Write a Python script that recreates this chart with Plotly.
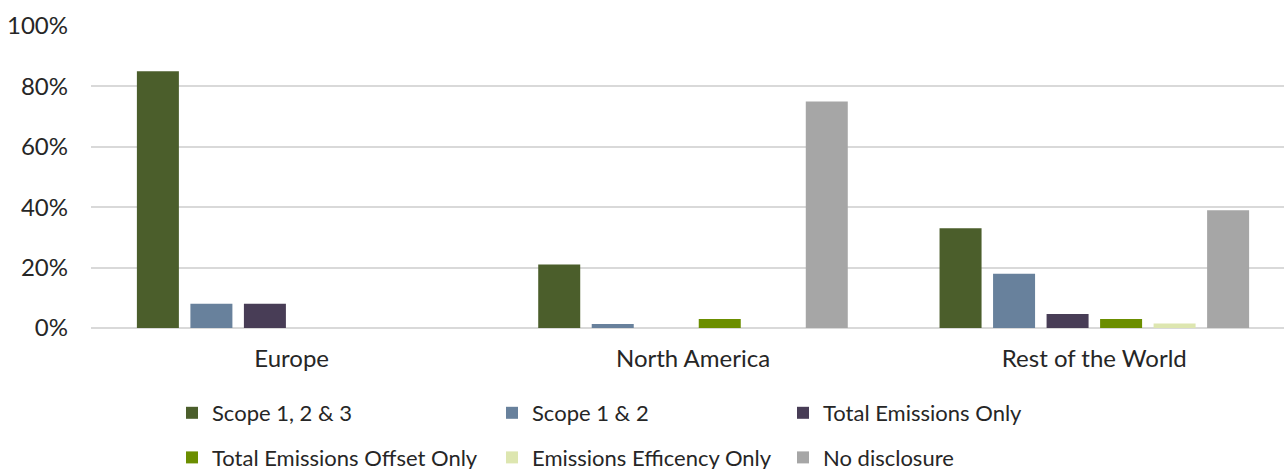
import plotly.graph_objects as go

categories = ["Europe", "North America", "Rest of the World"]
series_names = ["Scope 1, 2 & 3", "Scope 1 & 2", "Total Emissions Only",
                "Total Emissions Offset Only", "Emissions Efficency Only", "No disclosure"]
scope_123 = [85, 21, 33]
scope_12 = [8, 1.3, 18]
total_only = [8, 0, 4.6]
offset_only = [0, 3, 3]
efficiency_only = [0, 0, 1.5]
no_disclosure = [0, 75, 39]
y_tick_vals = [0, 20, 40, 60, 80, 100]
y_tick_text = ["0%", "20%", "40%", "60%", "80%", "100%"]
colors = ["#4B5E2B", "#68819C", "#483D56", "#6B8E00", "#DDE6B0", "#A6A6A6"]
legend_ids = ["legend", "legend2", "legend3", "legend", "legend2", "legend3"]

values = [scope_123, scope_12, total_only, offset_only, efficiency_only, no_disclosure]

fig = go.Figure()
for i, (name, vals) in enumerate(zip(series_names, values)):
    fig.add_trace(go.Bar(
        x=categories, y=vals, name=name,
        marker=dict(color=colors[i], line=dict(width=0)),
        legend=legend_ids[i], legendgroup=f"g{i}",
        hoverinfo="skip",
    ))

font_family = "Lato, 'DejaVu Sans', sans-serif"
text_color = "#262626"

W, H = 1284, 469
pl, pr, pt, pb = 91, 0, 25, 141
pw = W - pl - pr
ph = H - pt - pb
y_top = 100 * ph / (H - pb - 26)

def px_x(px):
    return (px - pl) / pw

def px_y(py):
    return (H - pb - py) / ph

legend_common = dict(
    orientation="v", xanchor="left", yanchor="top",
    font=dict(family=font_family, size=22, color=text_color),
    bgcolor="rgba(0,0,0,0)", tracegroupgap=13, borderwidth=0,
    itemclick=False, itemdoubleclick=False,
)

fig.update_layout(
    width=W, height=H,
    margin=dict(l=pl, r=pr, t=pt, b=pb, autoexpand=False),
    paper_bgcolor="white", plot_bgcolor="white",
    barmode="group", bargap=0.2, bargroupgap=0.215,
    font=dict(family=font_family, color=text_color),
    showlegend=True,
    legend=dict(x=px_x(172), y=px_y(392), **legend_common),
    legend2=dict(x=px_x(492), y=px_y(392), **legend_common),
    legend3=dict(x=px_x(783), y=px_y(392), **legend_common),
    xaxis=dict(
        range=[-0.5, 2.5 - 11 / 401.3],
        showgrid=False, showline=False, zeroline=False,
        tickfont=dict(family=font_family, size=24, color=text_color),
        ticks="", ticklabelstandoff=14,
    ),
    yaxis=dict(
        range=[0, y_top], tickmode="array", tickvals=y_tick_vals, ticktext=y_tick_text,
        showgrid=True, gridcolor="#D9D9D9", gridwidth=1.5,
        zeroline=True, zerolinecolor="#D9D9D9", zerolinewidth=1.5,
        showline=False, ticks="",
        tickfont=dict(family=font_family, size=24, color=text_color),
        ticklabelstandoff=22,
    ),
)

fig.write_html(
    "out.html",
    config={"displayModeBar": False},
    post_script="document.body.style.margin='0px';document.body.style.padding='0px';",
)
